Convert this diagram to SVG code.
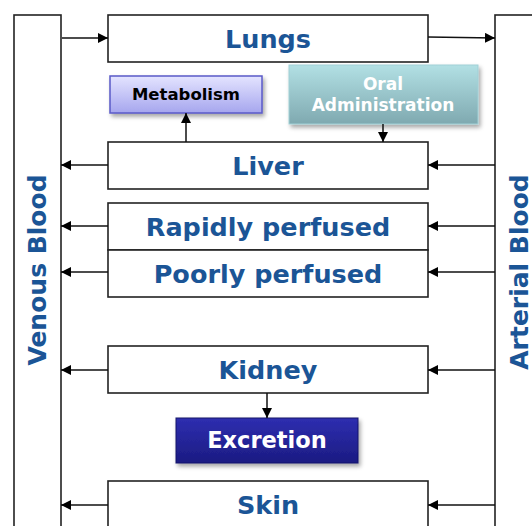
<svg xmlns="http://www.w3.org/2000/svg" width="532" height="526" viewBox="0 0 532 526">
<style>
.box{fill:#fff;stroke:#222;stroke-width:1.6}
.lbl{font-family:"DejaVu Sans",Verdana,sans-serif;font-weight:bold;fill:#1b5596;font-size:25.5px;text-anchor:middle}
.vl{font-family:"DejaVu Sans",Verdana,sans-serif;font-weight:bold;fill:#1b5596;font-size:25px;text-anchor:middle}
.wl{font-family:"DejaVu Sans",Verdana,sans-serif;font-weight:bold;fill:#fff;text-anchor:middle}
.cn line{stroke:#111;stroke-width:1.5;marker-end:url(#ah)}
</style>
<defs>
<marker id="ah" viewBox="0 0 10 10" refX="10" refY="5" markerWidth="10" markerHeight="10" markerUnits="userSpaceOnUse" orient="auto">
<path d="M0,0 L10,5 L0,10 z" fill="#000"/>
</marker>
<linearGradient id="gm" x1="0" y1="0" x2="0" y2="1"><stop offset="0" stop-color="#e4e4ff"/><stop offset="1" stop-color="#a6a6ee"/></linearGradient>
<linearGradient id="go" x1="0" y1="0" x2="0" y2="1"><stop offset="0" stop-color="#b2e0e4"/><stop offset="1" stop-color="#7fa9b0"/></linearGradient>
<linearGradient id="ge" x1="0" y1="0" x2="0" y2="1"><stop offset="0" stop-color="#2e2eb0"/><stop offset="1" stop-color="#1b1b82"/></linearGradient>
<filter id="sh" x="-10%" y="-20%" width="130%" height="150%"><feDropShadow dx="2" dy="3" stdDeviation="2" flood-color="#000" flood-opacity="0.35"/></filter>
</defs>
<g id="venous"><rect class="box" x="14" y="15" width="47" height="520"/><text class="vl" transform="translate(46,270) rotate(-90)">Venous Blood</text></g>
<g id="arterial"><rect class="box" x="495" y="15" width="47" height="520"/><text class="vl" transform="translate(528,272) rotate(-90)">Arterial Blood</text></g>
<g id="lungs"><rect class="box" x="108" y="15" width="320" height="47"/><text class="lbl" x="268" y="48">Lungs</text></g>
<g id="metabolism"><rect x="110" y="76" width="152" height="37" fill="url(#gm)" stroke="#5a5ac8" stroke-width="1.5" filter="url(#sh)"/><text x="186" y="100" font-family="DejaVu Sans,Verdana,sans-serif" font-weight="bold" font-size="16.5" text-anchor="middle" fill="#000">Metabolism</text></g>
<g id="oral"><rect x="289" y="65" width="189" height="59" fill="url(#go)" stroke="#a0d0d6" stroke-width="1" filter="url(#sh)"/><text class="wl" x="383" y="90" font-size="17">Oral</text><text class="wl" x="383" y="111" font-size="17">Administration</text></g>
<g id="liver"><rect class="box" x="108" y="142" width="320" height="47"/><text class="lbl" x="268" y="175">Liver</text></g>
<g id="rapid"><rect class="box" x="108" y="203" width="320" height="47"/><text class="lbl" x="268" y="236">Rapidly perfused</text></g>
<g id="poor"><rect class="box" x="108" y="250" width="320" height="47"/><text class="lbl" x="268" y="283">Poorly perfused</text></g>
<g id="kidney"><rect class="box" x="108" y="346" width="320" height="47"/><text class="lbl" x="268" y="379">Kidney</text></g>
<g id="excretion"><rect x="176" y="418" width="182" height="45" fill="url(#ge)" stroke="#15156a" stroke-width="1" filter="url(#sh)"/><text class="wl" x="267" y="448" font-size="22.5">Excretion</text></g>
<g id="skin"><rect class="box" x="108" y="481" width="320" height="60"/><text class="lbl" x="268" y="514">Skin</text></g>
<g class="cn">
<line x1="62" y1="38" x2="108" y2="38"/>
<line x1="428" y1="37" x2="495" y2="38"/>
<line x1="186" y1="142" x2="186" y2="113"/>
<line x1="383" y1="124" x2="383" y2="142"/>
<line x1="108" y1="165" x2="61" y2="165"/>
<line x1="495" y1="165" x2="428" y2="165"/>
<line x1="108" y1="226" x2="61" y2="226"/>
<line x1="495" y1="226" x2="428" y2="226"/>
<line x1="108" y1="272" x2="61" y2="272"/>
<line x1="495" y1="272" x2="428" y2="272"/>
<line x1="108" y1="370" x2="61" y2="370"/>
<line x1="495" y1="370" x2="428" y2="370"/>
<line x1="267" y1="393" x2="267" y2="418"/>
<line x1="108" y1="505" x2="61" y2="505"/>
<line x1="495" y1="505" x2="428" y2="505"/>
</g>
</svg>
